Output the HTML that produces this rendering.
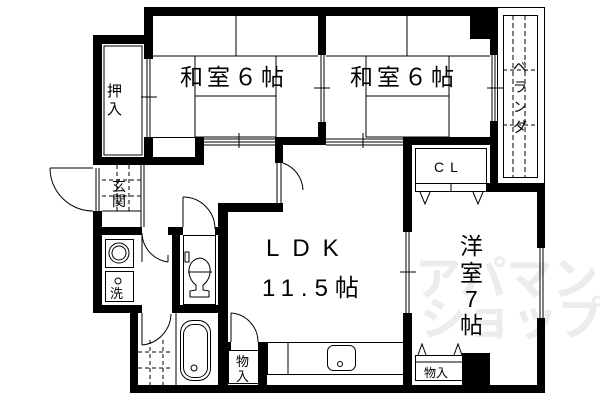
<!DOCTYPE html>
<html><head><meta charset="utf-8"><style>
html,body{margin:0;padding:0;background:#fff;}
svg{display:block;}
text{font-family:"Liberation Sans","Noto Sans CJK JP",sans-serif;fill:#000;}
</style></head><body>
<svg width="600" height="400" viewBox="0 0 600 400" xmlns="http://www.w3.org/2000/svg">
<rect width="600" height="400" fill="#fff"/>
<g font-size="46" font-weight="bold">
<text x="415" y="295" style="fill:#ececec">アパマン</text>
<text x="420" y="335" style="fill:#ececec">ショップ</text>
</g>
<g fill="#000">
<rect x="144" y="7" width="353" height="9"/>
<rect x="470" y="16" width="27" height="23"/>
<rect x="144" y="7" width="9" height="52"/>
<rect x="144" y="137" width="9" height="28"/>
<rect x="93" y="35" width="60" height="9"/>
<rect x="93" y="35" width="9" height="130"/>
<rect x="93" y="157" width="110" height="8"/>
<rect x="195" y="137" width="9" height="28"/>
<rect x="318" y="16" width="8" height="39"/>
<rect x="318" y="122" width="8" height="23"/>
<rect x="275" y="137" width="51" height="8"/>
<rect x="275" y="137" width="8" height="26"/>
<rect x="490" y="16" width="7" height="39"/>
<rect x="490" y="121" width="7" height="24"/>
<rect x="403" y="137" width="94" height="8"/>
<rect x="490" y="137" width="7" height="55"/>
<rect x="403" y="137" width="9" height="95"/>
<rect x="403" y="313" width="9" height="80"/>
<rect x="486" y="183" width="59" height="9"/>
<rect x="537" y="183" width="8" height="65"/>
<rect x="537" y="318" width="8" height="75"/>
<rect x="462" y="353" width="28" height="40"/>
<rect x="130" y="385" width="415" height="8"/>
<rect x="93" y="211" width="9" height="102"/>
<rect x="93" y="305" width="45" height="8"/>
<rect x="130" y="305" width="8" height="88"/>
<rect x="93" y="227" width="49" height="8"/>
<rect x="168" y="227" width="15" height="8"/>
<rect x="172" y="227" width="8" height="86"/>
<rect x="138" y="305" width="4" height="8"/>
<rect x="172" y="305" width="55" height="8"/>
<rect x="215" y="227" width="12" height="8"/>
<rect x="218" y="203" width="10" height="190"/>
<rect x="218" y="203" width="65" height="9"/>
<rect x="258" y="342" width="9" height="51"/>
<rect x="228" y="342" width="3" height="8"/>
</g>
<g fill="none" stroke="#000" stroke-width="1">
<line x1="153" y1="137.5" x2="195" y2="137.5"/>
<rect x="104" y="46" width="38" height="109"/>
<line x1="147" y1="59" x2="147" y2="137"/><line x1="150" y1="59" x2="150" y2="137"/>
<line x1="141" y1="97" x2="157" y2="97"/>
<line x1="153" y1="56" x2="318" y2="56"/>
<line x1="236" y1="16" x2="236" y2="56"/>
<rect x="195" y="96" width="81" height="41"/>
<line x1="195" y1="56" x2="195" y2="137"/>
<line x1="276" y1="56" x2="276" y2="137"/>
<line x1="321" y1="55" x2="321" y2="122"/><line x1="324" y1="55" x2="324" y2="122"/>
<line x1="314" y1="88" x2="330" y2="88"/>
<line x1="204" y1="139" x2="275" y2="139"/><line x1="204" y1="142" x2="275" y2="142"/><line x1="204" y1="145" x2="275" y2="145"/>
<line x1="239" y1="133" x2="239" y2="148"/>
<line x1="326" y1="56" x2="490" y2="56"/>
<line x1="407" y1="16" x2="407" y2="56"/>
<rect x="366" y="96" width="83" height="41"/>
<line x1="366" y1="56" x2="366" y2="96"/>
<line x1="449" y1="56" x2="449" y2="96"/>
<line x1="326" y1="139" x2="403" y2="139"/><line x1="326" y1="142" x2="403" y2="142"/><line x1="326" y1="145" x2="403" y2="145"/>
<line x1="363" y1="133" x2="363" y2="148"/>
<line x1="492" y1="55" x2="492" y2="121"/><line x1="495" y1="55" x2="495" y2="121"/>
<line x1="487" y1="88" x2="503" y2="88"/>
<rect x="497.5" y="7.5" width="47" height="176"/>
<rect x="503.5" y="15.5" width="34" height="162"/>
<line x1="513" y1="15" x2="513" y2="177" stroke-dasharray="5,3"/>
<line x1="525" y1="15" x2="525" y2="177" stroke-dasharray="5,3"/>
<line x1="503" y1="70" x2="537" y2="70" stroke-dasharray="4,3"/>
<line x1="503" y1="125" x2="537" y2="125" stroke-dasharray="4,3"/>
<rect x="415.5" y="148.5" width="71" height="35"/>
<rect x="415.5" y="183.5" width="71" height="8"/>
<line x1="451" y1="183" x2="451" y2="192"/>
<polyline points="420,192 425,204 430,192"/>
<polyline points="473,192 478,204 483,192"/>
<line x1="406" y1="232" x2="406" y2="313"/><line x1="409" y1="232" x2="409" y2="313"/>
<line x1="400" y1="272" x2="416" y2="272"/>
<line x1="540" y1="248" x2="540" y2="318"/><line x1="543" y1="248" x2="543" y2="318"/>
<rect x="415.5" y="355.5" width="47" height="25"/>
<line x1="415" y1="362" x2="462" y2="362"/>
<polyline points="418,355 422,344 426,355"/>
<polyline points="454,355 458,344 462,355"/>
<line x1="96" y1="168" x2="96" y2="211"/><line x1="99" y1="168" x2="99" y2="211"/>
<line x1="50" y1="168" x2="93" y2="168"/>
<path d="M50,168 A43,43 0 0 0 93,211"/>
<line x1="141" y1="165" x2="141" y2="227"/><line x1="144" y1="165" x2="144" y2="227"/>
<g stroke-dasharray="4,3">
<line x1="102" y1="180" x2="141" y2="180"/>
<line x1="102" y1="196" x2="141" y2="196"/>
<line x1="117" y1="165" x2="117" y2="211"/>
<line x1="129" y1="165" x2="129" y2="211"/>
</g>
<line x1="102" y1="211" x2="141" y2="211"/>
<line x1="142" y1="233" x2="142" y2="262"/>
<path d="M142,233 A30,30 0 0 0 168,262"/>
<line x1="168" y1="255" x2="168" y2="262"/>
<rect x="105.5" y="239.5" width="28" height="28"/>
<circle cx="119" cy="253" r="10"/><circle cx="119" cy="253" r="7"/>
<rect x="105.5" y="271.5" width="28" height="30"/>
<circle cx="118" cy="281" r="3"/>
<rect x="183.5" y="235.5" width="32" height="69"/>
<line x1="183" y1="197" x2="183" y2="227"/>
<path d="M183,197 A32,32 0 0 1 215,229"/>
<rect x="185" y="252" width="4" height="10"/>
<path d="M200,258 C186,260 186,278 196,285 L196,290 L190,291 L190,297 L209,297 L209,291 L203,290 L203,285 C213,278 213,260 200,258 Z"/>
<line x1="188" y1="272" x2="212" y2="272"/>
<line x1="142" y1="313" x2="142" y2="345"/>
<path d="M142,345 A32,32 0 0 0 171,314"/>
<g stroke-dasharray="4,3">
<line x1="138" y1="352" x2="172" y2="352"/>
<line x1="138" y1="368" x2="172" y2="368"/>
<line x1="150" y1="340" x2="150" y2="385"/>
<line x1="163" y1="340" x2="163" y2="385"/>
</g>
<line x1="176" y1="313" x2="176" y2="385"/>
<rect x="180.5" y="320.5" width="30" height="60" rx="12"/>
<rect x="183.5" y="324.5" width="24" height="53" rx="10"/>
<circle cx="194" cy="368" r="3"/>
<line x1="231" y1="313" x2="231" y2="342"/>
<path d="M231,313 A29,29 0 0 1 258,342"/>
<rect x="228.5" y="350.5" width="30" height="33"/>
<rect x="267.5" y="342.5" width="136" height="32"/>
<line x1="288" y1="342" x2="288" y2="375"/>
<rect x="327.5" y="345.5" width="28" height="25" rx="6"/>
<circle cx="340" cy="364" r="2.5"/>
<line x1="277" y1="163" x2="277" y2="203"/><line x1="281" y1="163" x2="281" y2="203"/>
<path d="M283,163 A30,30 0 0 1 303,190"/>
</g>
<text x="180" y="85" font-size="23" letter-spacing="4">和室６帖</text>
<text x="350" y="85" font-size="23" letter-spacing="4">和室６帖</text>
<text x="266" y="256" font-size="24" letter-spacing="13">LDK</text>
<text x="262" y="296" font-size="24" letter-spacing="7">11.5帖</text>
<text x="460" y="254" font-size="23">洋</text>
<text x="460" y="281" font-size="23">室</text>
<text x="465" y="307" font-size="23">7</text>
<text x="460" y="333" font-size="23">帖</text>
<text x="434" y="172" font-size="14" letter-spacing="6">CL</text>
<text x="424" y="377" font-size="12">物入</text>
<text x="107" y="96" font-size="15">押</text>
<text x="107" y="114" font-size="15">入</text>
<text x="112" y="191" font-size="14">玄</text>
<text x="112" y="206" font-size="14">関</text>
<text x="110" y="298" font-size="13">洗</text>
<text x="236" y="366" font-size="13">物</text>
<text x="236" y="381" font-size="13">入</text>
<text x="513" y="72" font-size="14">ベ</text>
<text x="513" y="92" font-size="14">ラ</text>
<text x="513" y="112" font-size="14">ン</text>
<text x="513" y="132" font-size="14">ダ</text>
</svg>
</body></html>
